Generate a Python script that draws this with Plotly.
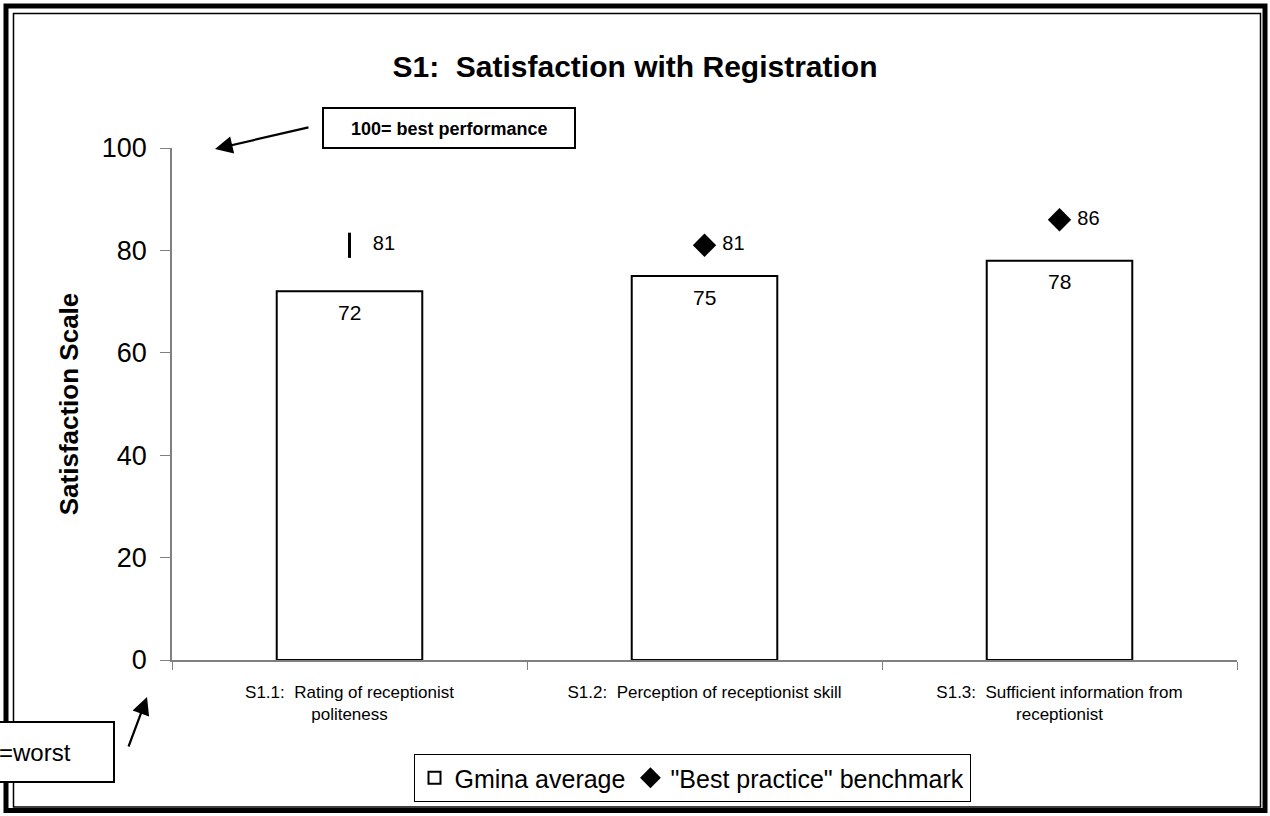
import plotly.graph_objs as go

# data
categories = [
    "S1.1:  Rating of receptionist<br>politeness",
    "S1.2:  Perception of receptionist skill",
    "S1.3:  Sufficient information from<br>receptionist",
]
gmina_average = [72, 75, 78]
best_practice = [81, 81, 86]
y_ticks = [0, 20, 40, 60, 80, 100]

W, H = 1270, 816
L, R, T, B = 172, 33, 148, 156
PW, PH = W - L - R, H - T - B
FONT = "Arial, Liberation Sans"


def fx(px):
    """pixel x -> paper x"""
    return (px - L) / PW


def fy(py):
    """pixel y -> paper y"""
    return (H - B - py) / PH


fig = go.Figure()

fig.add_trace(
    go.Bar(
        x=categories,
        y=gmina_average,
        name="Gmina average",
        width=0.41,
        marker={"color": "white", "line": {"color": "black", "width": 2}},
    )
)

# benchmark points: the first one is drawn as a short vertical bar in the original
fig.add_trace(
    go.Scatter(
        x=categories[1:],
        y=best_practice[1:],
        name='"Best practice" benchmark',
        mode="markers+text",
        marker={"symbol": "diamond", "size": 18, "color": "black"},
        text=[" " + str(v) for v in best_practice[1:]],
        textposition="middle right",
        textfont={"size": 20, "color": "black", "family": FONT},
    )
)
fig.add_trace(
    go.Scatter(
        x=categories[:1],
        y=best_practice[:1],
        showlegend=False,
        mode="markers+text",
        marker={"symbol": "line-ns", "size": 18, "line": {"color": "black", "width": 3}},
        text=["  " + str(v) for v in best_practice[:1]],
        textposition="middle right",
        textfont={"size": 20, "color": "black", "family": FONT},
    )
)

# value labels just under the top of each bar
bar_labels = [
    dict(x=c, y=v, xref="x", yref="y", text=str(v), showarrow=False,
         yanchor="middle", yshift=-21,
         font={"size": 21, "color": "black", "family": FONT})
    for c, v in zip(categories, gmina_average)
]

frame = [
    dict(type="rect", xref="paper", yref="paper",
         x0=fx(6), y0=fy(6), x1=fx(1265), y1=fy(810.5),
         line={"color": "black", "width": 5}),
    dict(type="rect", xref="paper", yref="paper",
         x0=fx(13.5), y0=fy(13.5), x1=fx(1260.5), y1=fy(807),
         line={"color": "black", "width": 1.5}),
    # note boxes
    dict(type="rect", xref="paper", yref="paper",
         x0=fx(323), y0=fy(108), x1=fx(575), y1=fy(148),
         line={"color": "black", "width": 2}, fillcolor="white"),
    dict(type="rect", xref="paper", yref="paper",
         x0=fx(-10), y0=fy(722), x1=fx(114), y1=fy(782),
         line={"color": "black", "width": 2}, fillcolor="white"),
]

notes = [
    dict(x=fx(449), y=fy(129), xref="paper", yref="paper", showarrow=False,
         xanchor="center", yanchor="middle",
         text="<b>100= best performance</b>",
         font={"size": 18, "color": "black", "family": FONT}),
    dict(x=fx(-3), y=fy(752), xref="paper", yref="paper", showarrow=False,
         xanchor="left", yanchor="middle", text="=worst",
         font={"size": 24, "color": "black", "family": FONT}),
    dict(x=fx(215), y=fy(149), xref="paper", yref="paper", text="",
         showarrow=True, arrowhead=2, arrowsize=1.6, arrowwidth=2.2,
         arrowcolor="black", ax=95, ay=-22),
    dict(x=fx(147), y=fy(697), xref="paper", yref="paper", text="",
         showarrow=True, arrowhead=2, arrowsize=1.6, arrowwidth=2.2,
         arrowcolor="black", ax=-19, ay=51),
]

fig.update_layout(
    width=W,
    height=H,
    margin={"l": L, "r": R, "t": T, "b": B},
    paper_bgcolor="white",
    plot_bgcolor="white",
    font={"family": FONT, "color": "black"},
    title={
        "text": "<b>S1:  Satisfaction with Registration</b>",
        "x": 0.5,
        "xref": "container",
        "y": 1 - 66 / H,
        "yref": "container",
        "xanchor": "center",
        "yanchor": "middle",
        "font": {"size": 30, "color": "black"},
    },
    xaxis={
        "showline": True,
        "linecolor": "#808080",
        "linewidth": 1.5,
        "ticks": "outside",
        "tickson": "boundaries",
        "ticklen": 8,
        "tickcolor": "#808080",
        "tickfont": {"size": 17},
        "ticklabelstandoff": 16,
        "showgrid": False,
    },
    yaxis={
        "range": [0, 100],
        "tickvals": y_ticks,
        "showline": True,
        "linecolor": "#808080",
        "linewidth": 1.5,
        "ticks": "outside",
        "ticklen": 10,
        "tickcolor": "#808080",
        "tickfont": {"size": 27},
        "ticklabelstandoff": 8,
        "showgrid": False,
        "zeroline": False,
        "title": {"text": "<b>Satisfaction Scale</b>", "font": {"size": 26}, "standoff": 16},
    },
    legend={
        "orientation": "h",
        "x": fx(692),
        "xanchor": "center",
        "y": fy(754),
        "yanchor": "top",
        "bordercolor": "black",
        "borderwidth": 1,
        "font": {"size": 25},
        "itemwidth": 30,
        "tracegroupgap": 0,
    },
    shapes=frame,
    annotations=bar_labels + notes,
    bargap=0.59,
)

# the page body has an 8px default margin; drop it so the figure sits at (0, 0)
fig.write_html(
    "out.html",
    config={"displayModeBar": False},
    post_script="document.body.style.margin='0';",
)
